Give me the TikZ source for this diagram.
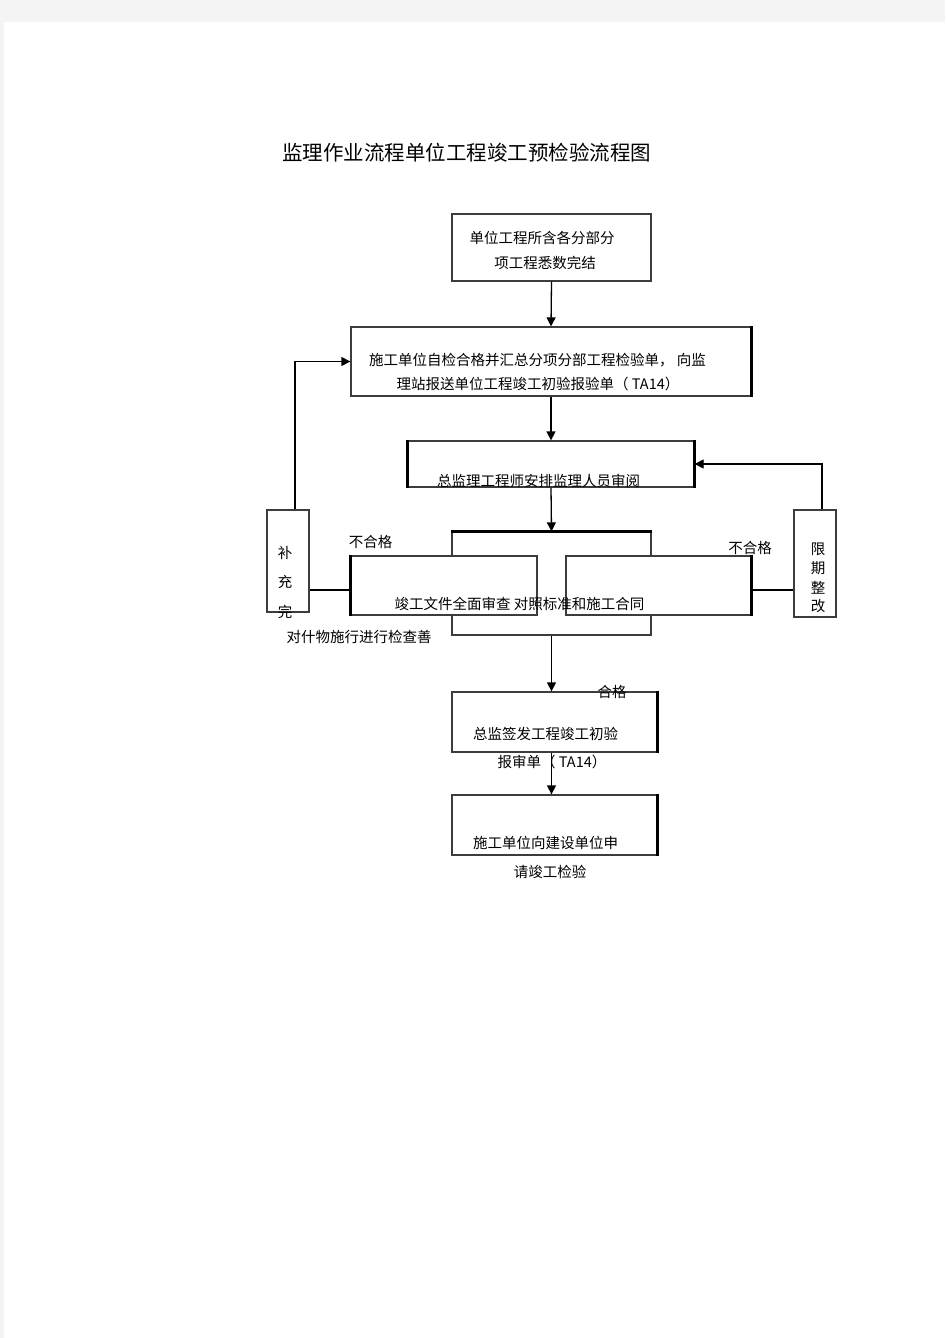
\documentclass[tikz,border=0pt]{standalone}
\usepackage{fontspec}
\newfontfamily\cjk{Noto Sans CJK SC}
\usetikzlibrary{arrows.meta}
\definecolor{pagegray}{RGB}{244,244,244}
\definecolor{linegray}{RGB}{60,60,60}

\begin{document}
\begin{tikzpicture}[x=1pt,y=-1pt,font=\cjk\fontsize{14.5}{19}\selectfont,
  box/.style={draw=linegray,line width=1.3pt,fill=white,inner sep=0},
  heavy/.style={draw=black,line width=2.6pt},
  arr/.style={draw=black,line width=1.3pt,-{Triangle[length=9pt,width=9pt]}},
  txt/.style={inner sep=0,align=center}]
\useasboundingbox (0,0) rectangle (945,1338);
\fill[pagegray] (0,0) rectangle (945,1338); %page background
\fill[white] (4,22) rectangle (945,1338); %sheet

\node[txt,font=\cjk\fontsize{20.5}{22}\selectfont] (title) at (466.5,153) {监理作业流程单位工程竣工预检验流程图}; %title

%main column boxes
\node[box,minimum width=199pt,minimum height=67pt] (done) at (551.5,247.5) {};
\node[box,minimum width=400pt,minimum height=69pt] (selfchk) at (551,361.5) {};
\node[box,minimum width=286pt,minimum height=46pt] (review) at (551,464) {};
\node[box,minimum width=199pt,minimum height=103pt] (frame) at (551.5,583.5) {};
\node[box,minimum width=186pt,minimum height=59pt] (docchk) at (444,585.5) {};
\node[box,minimum width=185pt,minimum height=59pt] (stdchk) at (658.5,585.5) {};
\node[box,minimum width=205pt,minimum height=60pt] (issue) at (554.5,722) {};
\node[box,minimum width=205pt,minimum height=60pt] (apply) at (554.5,825) {};

%side boxes
\node[box,minimum width=42pt,minimum height=102pt] (supp) at (288,561) {};
\node[box,minimum width=42pt,minimum height=107pt] (fix) at (815,563.5) {};

%thick edges
\draw[heavy] (selfchk.north east)--(selfchk.south east);
\draw[heavy] (review.north west)--(review.south west);
\draw[heavy] (review.north east)--(review.south east);
\draw[heavy] (frame.north west)--(frame.north east);
\draw[heavy] (docchk.north west)--(docchk.south west);
\draw[heavy] (stdchk.north east)--(stdchk.south east);
\draw[heavy] (issue.north east)--(issue.south east);
\draw[heavy] (apply.north east)--(apply.south east);

%texts
\node[txt] (t1a) at (542,238) {单位工程所含各分部分};
\node[txt] (t1b) at (545,263) {项工程悉数完结};
\node[txt] (t2a) at (537.5,360) {施工单位自检合格并汇总分项分部工程检验单， 向监};
\node[txt] (t2b) at (538,384) {理站报送单位工程竣工初验报验单（ TA14）};
\node[txt] (t3) at (538.5,481) {总监理工程师安排监理人员审阅};
\node[txt] (t4) at (519.5,604) {竣工文件全面审查 对照标准和施工合同};
\node[txt] (nl) at (370.5,542) {不合格}; %left fail
\node[txt] (nr) at (750,548) {不合格}; %right fail
\node[txt] (s1) at (285,553) {补};
\node[txt] (s2) at (285,582) {充};
\node[txt] (s3) at (285,612) {完};
\node[txt] (s4) at (359,637) {对什物施行进行检查善};
\node[txt] (f1) at (818,549) {限};
\node[txt] (f2) at (818,568) {期};
\node[txt] (f3) at (818,588) {整};
\node[txt] (f4) at (818,606) {改};
\node[txt] (ok) at (612,692) {合格}; %pass
\node[txt] (t5a) at (545.5,734) {总监签发工程竣工初验};
\node[txt] (t5b) at (552,762) {报审单（ TA14）};
\node[txt] (t6a) at (545.5,843) {施工单位向建设单位申};
\node[txt] (t6b) at (550,872) {请竣工检验};

%connectors
\draw[arr] (done.south)--(selfchk.north);
\draw[arr] (selfchk.south)--(review.north);
\draw[arr] (review.south)--(frame.north);
\draw[arr] (frame.south)--(issue.north -| frame.south);
\draw[arr] (issue.south -| frame.south)--(apply.north -| frame.south);
\draw[heavy] ([yshift=-4.5pt]docchk.west)--([yshift=-4.5pt]docchk.west -| supp.east); %to supp
\draw[arr] ([xshift=7pt]supp.north) |- (selfchk.west); %back up left
\draw[heavy] ([yshift=-4.5pt]stdchk.east)--([yshift=-4.5pt]stdchk.east -| fix.west); %to fix
\draw[arr] ([xshift=7pt]fix.north) |- (review.east); %back up right
\end{tikzpicture}
\end{document}
